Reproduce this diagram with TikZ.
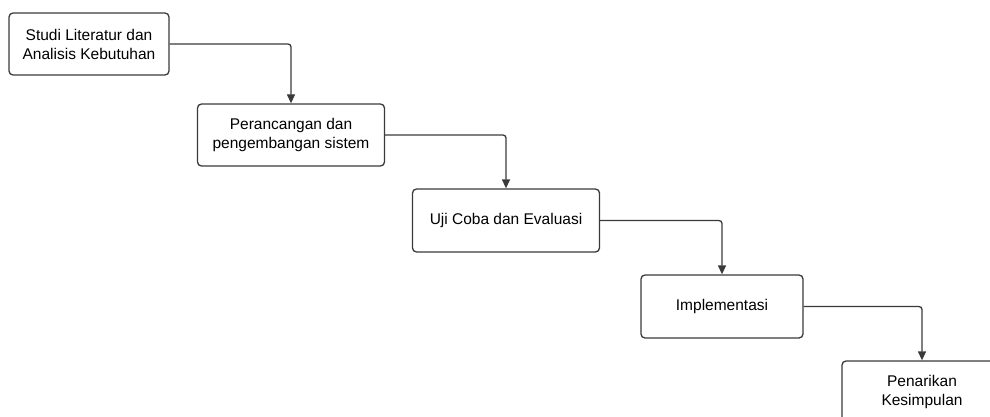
\documentclass[tikz,border=0pt]{standalone}
\usepackage{fontspec}
\setmainfont{Liberation Sans}
\usetikzlibrary{arrows.meta}
\definecolor{edgegray}{HTML}{3A3A3A}
\tikzset{
  stagebox/.style={draw=edgegray, line width=1.3pt, rounded corners=4pt, fill=white,
    align=center, font=\fontsize{15.5pt}{19pt}\selectfont, text=black, inner sep=0pt},
  flowline/.style={draw=edgegray, line width=1.3pt, rounded corners=3pt,
    -{Triangle[length=9pt,width=8pt]}}
}
\begin{document}
\begin{tikzpicture}[x=1pt,y=1pt]
\useasboundingbox (0,0) rectangle (990,-417);
\clip (0,0) rectangle (990,-417);
\node[stagebox, minimum width=160pt, minimum height=62pt] (b1) at (89,-44) {Studi Literatur dan\\Analisis Kebutuhan};
\node[stagebox, minimum width=187pt, minimum height=62pt] (b2) at (291,-135) {Perancangan dan\\pengembangan sistem};
\node[stagebox, minimum width=187pt, minimum height=63pt] (b3) at (506,-220.5) {Uji Coba dan Evaluasi};
\node[stagebox, minimum width=162pt, minimum height=63pt] (b4) at (722,-306.5) {Implementasi};
\node[stagebox, minimum width=160pt, minimum height=62pt] (b5) at (922,-392) {Penarikan\\Kesimpulan};
\draw[flowline] (b1.east) -| (b2.north);
\draw[flowline] (b2.east) -| (b3.north);
\draw[flowline] (b3.east) -| (b4.north);
\draw[flowline] (b4.east) -| (b5.north);
\end{tikzpicture}
\end{document}
